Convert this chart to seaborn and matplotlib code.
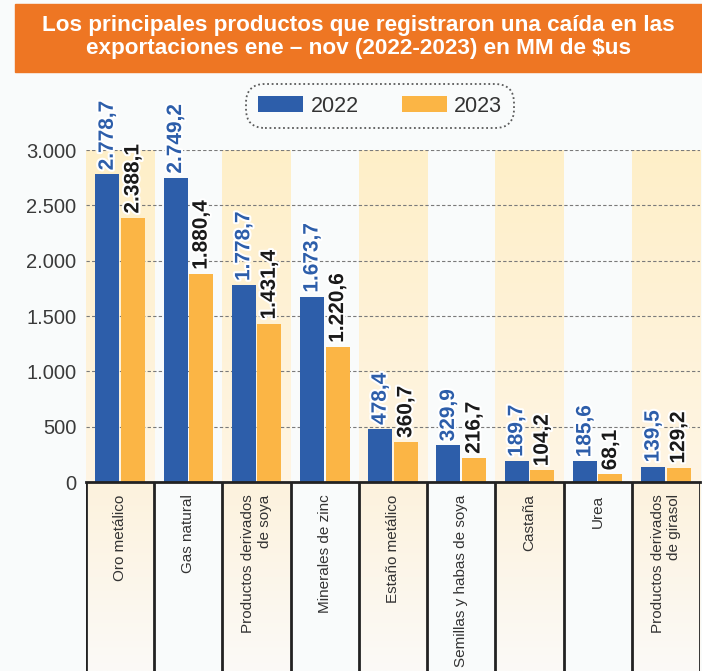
# Bar chart: main products with a drop in exports Jan-Nov (2022 vs 2023), MM $us
import numpy as np
import pandas as pd
import seaborn as sns
import matplotlib.pyplot as plt
import matplotlib.font_manager as fm
import matplotlib.patheffects as pe
from matplotlib.colors import LinearSegmentedColormap
from matplotlib.patches import Rectangle

# Data
productos = ['Oro metálico', 'Gas natural', 'Productos derivados\nde soya', 'Minerales de zinc',
             'Estaño metálico', 'Semillas y habas de soya', 'Castaña', 'Urea',
             'Productos derivados\nde girasol']
v2022 = [2778.7, 2749.2, 1778.7, 1673.7, 478.4, 329.9, 189.7, 185.6, 139.5]
v2023 = [2388.1, 1880.4, 1431.4, 1220.6, 360.7, 216.7, 104.2, 68.1, 129.2]
anios = ['2022', '2023']
yticks = [0, 500, 1000, 1500, 2000, 2500, 3000]

titulo = ('Los principales productos que registraron una caída en las\n'
          'exportaciones ene – nov (2022-2023) en MM de $us')

azul = '#2D5EAA'
naranja = '#FBB545'

# Fonts: use narrow if it is there
names = {f.name for f in fm.fontManager.ttflist}
if 'Liberation Sans Narrow' in names:
    fam = ['Liberation Sans Narrow', 'DejaVu Sans']
    fs_val, fs_cat, fs_y, fs_leg, fs_tit = 17.5, 12.5, 16, 17, 17.5
else:
    fam = ['Liberation Sans', 'DejaVu Sans']
    fs_val, fs_cat, fs_y, fs_leg, fs_tit = 15, 11, 14.5, 15.5, 16.2

sns.set_style('white')
plt.rcParams['font.family'] = fam

df = pd.DataFrame({
    'Producto': productos * 2,
    'Año': [anios[0]] * len(productos) + [anios[1]] * len(productos),
    'Valor': v2022 + v2023,
})

fig = plt.figure(figsize=(7.02, 6.71), dpi=100)
fig.patch.set_facecolor('#F9FBFB')

# Label area below the axis
lab_ax = fig.add_axes([86 / 702, 0, 614 / 702, 189 / 671])
ax = fig.add_axes([86 / 702, 189 / 671, 614 / 702, 332 / 671])
ax.set_facecolor('none')

n = len(productos)
cm_top = LinearSegmentedColormap.from_list('s1', ['#FEF5E4', '#FFEFC8'])
cm_bot = LinearSegmentedColormap.from_list('s2', ['#FBFAF7', '#FDF2DD'])
grad = np.linspace(0, 1, 100).reshape(-1, 1)
for i in range(0, n, 2):
    ax.imshow(grad, extent=(i - 0.5, i + 0.5, 0, 3000), origin='lower', aspect='auto',
              cmap=cm_top, zorder=0)
    lab_ax.imshow(grad, extent=(i - 0.5, i + 0.5, 0, 1), origin='lower', aspect='auto',
                  cmap=cm_bot, zorder=0)

lab_ax.vlines(np.arange(-0.5, n, 1), 0, 1, color='#222222', lw=2)
lab_ax.set_xlim(-0.5, n - 0.5)
lab_ax.set_ylim(0, 1)
lab_ax.axis('off')

sns.barplot(data=df, x='Producto', y='Valor', hue='Año', palette=[azul, naranja],
            width=0.75, gap=0.06, saturation=1, linewidth=0, ax=ax, zorder=3)

for cont, col in zip(ax.containers, [azul, '#1A1A1A']):
    labs = [f'{b.get_height():,.1f}'.replace(',', 'X').replace('.', ',').replace('X', '.')
            for b in cont]
    ax.bar_label(cont, labels=labs, rotation=90, padding=3, color=col, fontsize=fs_val,
                 fontweight='bold', zorder=5,
                 path_effects=[pe.withStroke(linewidth=3, foreground='white')])

ax.set_xlim(-0.5, n - 0.5)
ax.set_ylim(0, 3000)
ax.set_yticks(yticks)
ax.set_yticklabels([f'{v:,}'.replace(',', '.') for v in yticks], fontsize=fs_y, color='#3A3A3A')
ax.set_xticks(range(n))
ax.set_xticklabels(productos, rotation=90, fontsize=fs_cat, color='#333333',
                   va='top', ha='center', multialignment='right')
ax.tick_params(axis='x', length=0, pad=9)
ax.tick_params(axis='y', length=0, pad=7)
ax.set_xlabel('')
ax.set_ylabel('')
ax.yaxis.grid(True, linestyle=(0, (3, 2)), color='#7A7A7A', lw=0.8, zorder=1)
ax.set_axisbelow(True)
for s in ['left', 'top', 'right']:
    ax.spines[s].set_visible(False)
ax.spines['bottom'].set_color('#222222')
ax.spines['bottom'].set_linewidth(2)
ax.spines['bottom'].set_zorder(6)

# Legend
sns.move_legend(ax, 'center', bbox_to_anchor=(380 / 702, 1 - 106 / 671),
                bbox_transform=fig.transFigure, ncol=2, title=None, frameon=True,
                fontsize=fs_leg, handlelength=2.1, handleheight=0.8, columnspacing=2.0,
                handletextpad=0.35, borderpad=0.35, borderaxespad=0)
leg = ax.get_legend()
frame = leg.get_frame()
frame.set_boxstyle('round,pad=0.2,rounding_size=0.9')
frame.set_linestyle((0, (1, 1.5)))
frame.set_edgecolor('#333333')
frame.set_linewidth(1.3)
frame.set_facecolor('none')
for t in leg.get_texts():
    t.set_color('#333333')

# Title banner
fig.patches.append(Rectangle((15 / 702, 1 - 72 / 671), 1 - 15 / 702, 68 / 671,
                             transform=fig.transFigure, color='#EE7623', zorder=0))
fig.text(358.5 / 702, 1 - 37 / 671, titulo, ha='center', va='center', color='white',
         fontsize=fs_tit, fontweight='bold', linespacing=1.1)

fig.savefig('out.png', dpi=100, facecolor=fig.get_facecolor())
